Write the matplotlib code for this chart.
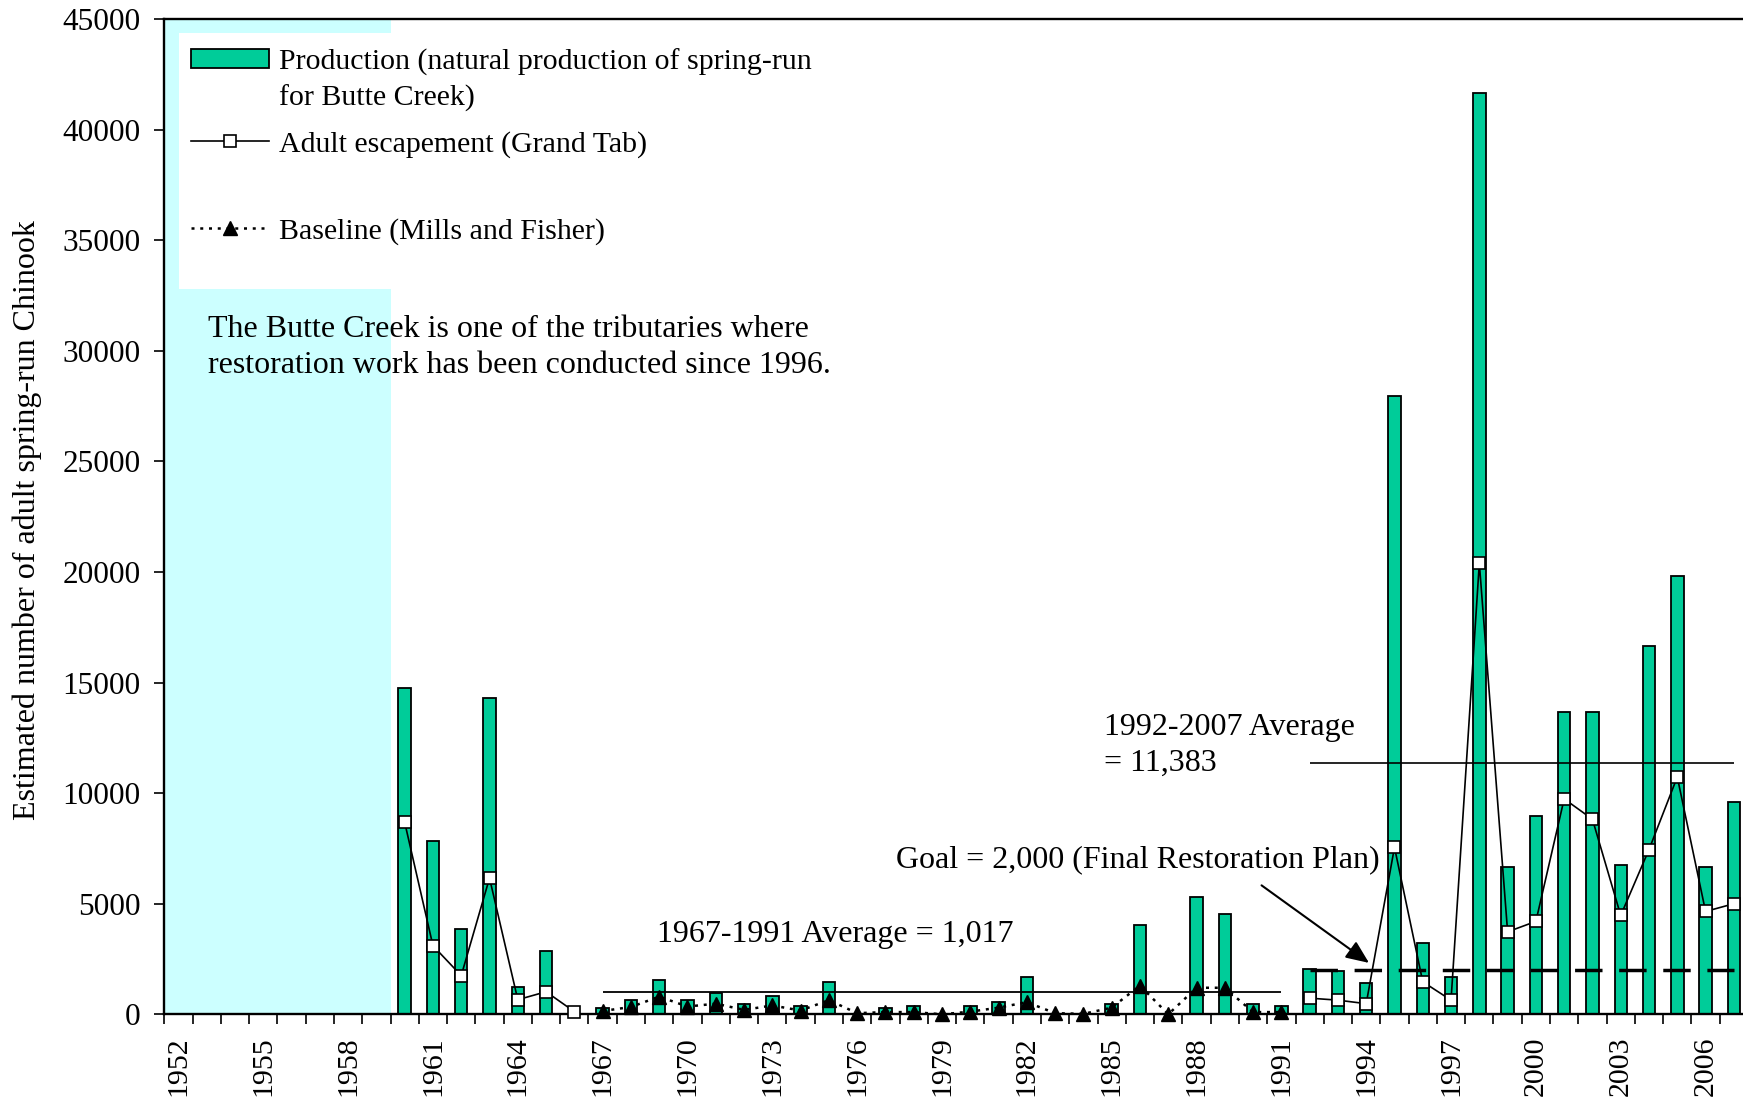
import numpy as np
import matplotlib
matplotlib.use("Agg")
import matplotlib.pyplot as plt
from matplotlib.patches import Rectangle, Patch
from matplotlib.lines import Line2D
from matplotlib.legend_handler import HandlerPatch

plt.rcParams['font.family'] = ['Liberation Serif', 'DejaVu Serif']

# ---- data ----
years = np.arange(1952, 2008)
nan = np.nan

# natural production of spring-run for Butte Creek (1952-2007)
production = [nan, nan, nan, nan, nan, nan, nan, nan,
              14750, 7830, 3870, 14300, 1230, 2860, nan,
              270, 640, 1550, 640, 970, 450, 830, 360, 1480, nan,
              280, 360, nan, 360, 550, 1670, nan, nan, 450, 4050,
              nan, 5320, 4520, 450, 360,
              2050, 1960, 1430, 27970, 3220, 1700, 41650, 6670,
              8950, 13670, 13670, 6770, 16670, 19830, 6670, 9580]

# adult escapement (Grand Tab)
escapement = [nan, nan, nan, nan, nan, nan, nan, nan,
              8680, 3100, 1750, 6160, 660, 1020, 120,
              nan, nan, nan, nan, nan, nan, nan, nan, nan, nan,
              nan, nan, nan, nan, nan, nan, nan, nan, nan, nan,
              nan, nan, nan, nan, nan,
              730, 640, 480, 7550, 1470, 640, 20400, 3730,
              4200, 9740, 8820, 4470, 7450, 10730, 4650, 5000]

# baseline (Mills and Fisher), 1967-1991
baseline_years = np.arange(1967, 1992)
baseline = [150, 330, 800, 350, 480, 200, 400, 170, 640, 50,
            100, 100, 0, 120, 300, 550, 50, 20, 300, 1300,
            0, 1200, 1200, 100, 100]

avg_early = 1017     # 1967-1991
avg_late = 11383     # 1992-2007
goal = 2000
no_data_years = (1952, 1959)
label_years = np.arange(1952, 2008, 3)

green = '#00CC99'
cyan = '#CCFFFF'

# ---- figure ----
fig = plt.figure(figsize=(17.43, 11.04), dpi=100)
ax = fig.add_axes([0.09426, 0.08125, 0.9086, 0.9015])

ax.axvspan(no_data_years[0] - 0.5, no_data_years[1] + 0.5, color=cyan, lw=0, zorder=0.5)
ax.add_patch(Rectangle((0.0093, 0.7287), 0.44, 0.2569, transform=ax.transAxes,
                       facecolor='white', edgecolor='none', zorder=0.8))

ax.bar(years, production, width=0.44, color=green, edgecolor='black', linewidth=1.3, zorder=2)

ax.plot(years, escapement, color='black', lw=1.2, marker='s', ms=8.5,
        mfc='white', mec='black', mew=1.2, zorder=4, clip_on=False)
ax.plot(baseline_years, baseline, color='black', lw=1.8, ls=(0, (1.2, 2.3)),
        marker='^', ms=10.5, mfc='black', mec='black', zorder=4, clip_on=False)

ax.hlines(avg_early, 1967, 1991, color='black', lw=1.3, zorder=3)
ax.hlines(avg_late, 1992, 2007, color='black', lw=1.2, zorder=3)
ax.plot([1992, 2007], [goal, goal], color='black', lw=2.5, dashes=(7.9, 4.8),
        solid_capstyle='butt', dash_capstyle='butt', zorder=3)

# annotations
ax.text(1953.04, 30150, "The Butte Creek is one of the tributaries where\n"
        "restoration work has been conducted since 1996.",
        fontsize=23, ha='left', va='center', linespacing=1.33)
ax.text(1968.92, 3590, "1967-1991 Average = 1,017", fontsize=23, ha='left', va='center')
ax.text(1984.72, 12150, "1992-2007 Average\n= 11,383", fontsize=23, ha='left',
        va='center', linespacing=1.33)
ax.text(1977.38, 7008, "Goal = 2,000 (Final Restoration Plan)", fontsize=23,
        ha='left', va='center')
ax.annotate('', xy=(1994.18, 2250), xytext=(1990.22, 5904),
            arrowprops=dict(arrowstyle='-|>,head_length=0.7,head_width=0.3',
                            mutation_scale=20, color='black', lw=1.5))

# axes
ax.set_xlim(1951.5, 2007.5)
ax.set_ylim(0, 45000)
ax.set_yticks(np.arange(0, 45001, 5000))
ax.set_xticks(np.arange(1951.5, 2008, 1))
ax.set_xticklabels([])
ax.set_xticks(label_years, minor=True)
ax.set_xticklabels([str(y) for y in label_years], minor=True, rotation=90, fontsize=21.5)
ax.tick_params(axis='x', which='major', direction='out', length=7.5, width=1.2)
ax.tick_params(axis='x', which='minor', length=0, pad=16)
ax.tick_params(axis='y', direction='out', length=7.5, width=1.2, labelsize=22.5, pad=9.5)
for s in ['left', 'bottom', 'top']:
    ax.spines[s].set_linewidth(1.7)
ax.spines['right'].set_visible(False)

fig.text(27 / 1743, 0.5293, "Estimated number of adult spring-run Chinook",
         rotation=90, ha='center', va='center', fontsize=23)


# legend - the bar key sits next to the first line of its two-line label
def top_patch(legend, orig_handle, xdescent, ydescent, width, height, fontsize):
    return Rectangle((-xdescent, -ydescent + 15.5), width, height)


prod_h = Patch(facecolor=green, edgecolor='black', linewidth=1.3)
adult_h = Line2D([], [], color='black', lw=1.2, marker='s', ms=8.5,
                 mfc='white', mec='black', mew=1.2)
base_h = Line2D([], [], color='black', lw=1.8, ls=(0, (1.2, 2.3)),
                marker='^', ms=10.5, mfc='black', mec='black')

leg1 = ax.legend([prod_h, adult_h],
                 ["Production (natural production of spring-run\nfor Butte Creek)",
                  "Adult escapement (Grand Tab)"],
                 loc='upper left', bbox_to_anchor=(0.0169, 0.970), frameon=False,
                 fontsize=21.5, borderpad=0, borderaxespad=0, handlelength=2.6,
                 handleheight=0.6, handletextpad=0.33, labelspacing=0.62,
                 handler_map={Patch: HandlerPatch(patch_func=top_patch)})
leg1.get_texts()[0].set_linespacing(1.42)
leg1.set_zorder(5)
ax.add_artist(leg1)
leg2 = ax.legend([base_h], ["Baseline (Mills and Fisher)"],
                 loc='center left', bbox_to_anchor=(0.0169, 0.787), frameon=False,
                 fontsize=21.5, borderpad=0, borderaxespad=0, handlelength=2.6,
                 handleheight=0.6, handletextpad=0.33)
leg2.set_zorder(5)

fig.savefig("out.png", dpi=100)
